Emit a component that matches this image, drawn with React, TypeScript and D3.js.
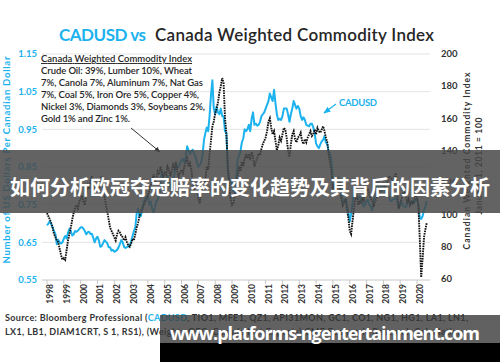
import React from "react";
import * as d3 from "d3";

const yearLabels = ["1998", "1999", "2000", "2001", "2002", "2003", "2004", "2005", "2006", "2007", "2008",
  "2009", "2010", "2011", "2012", "2013", "2014", "2015", "2016", "2017", "2018", "2019", "2020"];
const leftTicks = [0.55, 0.65, 0.75, 0.85, 0.95, 1.05, 1.15];
const rightTicks = [60, 80, 100, 120, 140, 160, 180, 200];

// monthly, Jan 1998 .. Aug 2020
const cadusd = [
  0.695, 0.700, 0.706, 0.698, 0.690, 0.680, 0.672, 0.645, 0.657, 0.650, 0.647, 0.650,
  0.660, 0.667, 0.660, 0.676, 0.686, 0.680, 0.668, 0.671, 0.680, 0.678, 0.681, 0.685,
  0.690, 0.690, 0.686, 0.680, 0.671, 0.677, 0.678, 0.672, 0.673, 0.662, 0.650, 0.660,
  0.665, 0.655, 0.638, 0.640, 0.648, 0.656, 0.652, 0.648, 0.637, 0.637, 0.628, 0.630,
  0.625, 0.627, 0.630, 0.636, 0.645, 0.656, 0.650, 0.638, 0.635, 0.637, 0.640, 0.640,
  0.652, 0.666, 0.680, 0.690, 0.727, 0.740, 0.718, 0.720, 0.738, 0.757, 0.765, 0.770,
  0.772, 0.750, 0.758, 0.738, 0.730, 0.742, 0.760, 0.762, 0.778, 0.800, 0.838, 0.822,
  0.812, 0.805, 0.826, 0.808, 0.795, 0.808, 0.820, 0.832, 0.855, 0.850, 0.850, 0.862,
  0.868, 0.872, 0.862, 0.876, 0.905, 0.895, 0.884, 0.892, 0.896, 0.885, 0.878, 0.862,
  0.850, 0.855, 0.862, 0.882, 0.922, 0.940, 0.955, 0.945, 0.985, 1.040, 1.080, 1.005,
  0.990, 1.010, 0.995, 0.990, 1.005, 0.985, 0.985, 0.945, 0.940, 0.840, 0.815, 0.805,
  0.815, 0.785, 0.790, 0.815, 0.870, 0.880, 0.890, 0.915, 0.925, 0.950, 0.945, 0.950,
  0.962, 0.945, 0.978, 0.995, 0.962, 0.965, 0.960, 0.962, 0.970, 0.985, 0.990, 0.995,
  1.005, 1.015, 1.025, 1.045, 1.035, 1.025, 1.055, 1.020, 0.990, 0.975, 0.978, 0.975,
  0.985, 1.005, 1.005, 1.005, 0.990, 0.970, 0.990, 1.005, 1.025, 1.015, 1.005, 1.012,
  1.005, 0.985, 0.975, 0.982, 0.975, 0.962, 0.960, 0.958, 0.965, 0.965, 0.955, 0.940,
  0.912, 0.905, 0.900, 0.910, 0.918, 0.922, 0.932, 0.915, 0.910, 0.890, 0.885, 0.865,
  0.815, 0.800, 0.792, 0.810, 0.822, 0.810, 0.785, 0.760, 0.755, 0.765, 0.752, 0.730,
  0.705, 0.725, 0.755, 0.780, 0.775, 0.775, 0.765, 0.770, 0.762, 0.755, 0.745, 0.750,
  0.760, 0.763, 0.750, 0.745, 0.735, 0.752, 0.785, 0.795, 0.815, 0.795, 0.785, 0.785,
  0.805, 0.795, 0.775, 0.785, 0.775, 0.760, 0.760, 0.765, 0.765, 0.770, 0.757, 0.740,
  0.750, 0.758, 0.748, 0.745, 0.743, 0.752, 0.763, 0.753, 0.755, 0.760, 0.755, 0.762,
  0.765, 0.752, 0.715, 0.712, 0.720, 0.735, 0.745, 0.760,
];

const commodity = [
  101, 99, 97, 95, 92, 88, 86, 84, 83, 79, 75, 72,
  73, 72, 78, 84, 88, 92, 97, 101, 104, 106, 104, 108,
  110, 112, 108, 106, 113, 118, 116, 121, 124, 120, 116, 118,
  115, 118, 122, 124, 118, 112, 106, 102, 97, 92, 90, 88,
  86, 84, 88, 90, 89, 87, 86, 84, 86, 83, 81, 80,
  82, 85, 84, 88, 92, 95, 99, 102, 104, 106, 108, 110,
  112, 115, 118, 121, 125, 120, 123, 127, 125, 130, 127, 124,
  126, 125, 130, 128, 124, 127, 131, 129, 133, 127, 124, 126,
  128, 126, 130, 133, 135, 130, 132, 128, 120, 116, 118, 120,
  110, 107, 113, 118, 115, 122, 130, 128, 138, 146, 155, 158,
  163, 166, 170, 176, 180, 185, 182, 160, 150, 132, 118, 110,
  106, 107, 112, 118, 125, 129, 127, 133, 130, 135, 137, 135,
  138, 134, 139, 136, 130, 133, 135, 138, 137, 141, 144, 146,
  148, 152, 158, 160, 154, 150, 152, 146, 140, 143, 148, 146,
  150, 154, 153, 148, 140, 136, 144, 150, 152, 147, 145, 148,
  149, 151, 146, 144, 147, 145, 148, 150, 152, 149, 150, 153,
  150, 154, 152, 151, 153, 155, 152, 148, 145, 138, 132, 126,
  116, 118, 114, 119, 118, 116, 110, 106, 108, 109, 104, 98,
  90, 88, 96, 104, 110, 112, 106, 108, 107, 111, 109, 114,
  115, 116, 112, 110, 109, 105, 108, 110, 113, 115, 117, 119,
  120, 117, 118, 121, 124, 123, 122, 121, 124, 126, 112, 104,
  107, 110, 113, 115, 112, 108, 110, 106, 108, 107, 109, 112,
  111, 105, 85, 61, 73, 86, 91, 95,
];

const boxLines = [
  "Canada Weighted Commodity Index",
  "Crude Oil: 39%, Lumber 10%, Wheat",
  "7%, Canola 7%, Aluminum 7%, Nat Gas",
  "7%, Coal 5%, Iron Ore 5%, Copper 4%,",
  "Nickel 3%, Diamonds 3%, Soybeans 2%,",
  "Gold 1% and Zinc 1%.",
];
const boxWidths = [151, 151, 162, 158, 164, 89];

const BLUE = "#1cb2ee";
const DARK = "#262626";
const FONT = "Lato, 'Open Sans', sans-serif";

const x = d3.scaleLinear().domain([1998, 2020]).range([47, 417]);
const yL = d3.scaleLinear().domain([0.55, 1.15]).range([280, 54]);
const yR = d3.scaleLinear().domain([60, 200]).range([279, 54]);

const blueLine = d3.line<number>()
  .x((d, i) => x(1998 + i / 12))
  .y(d => yL(d));
const blackLine = d3.line<number>()
  .x((d, i) => x(1998 + i / 12))
  .y(d => yR(d));

export default function App() {
  return (
    <svg width={500} height={362} style={{ position: "absolute", left: 0, top: 0, background: "#fff" }}
      fontFamily={FONT}>
      <defs>
        <marker id="arrDark" viewBox="0 0 10 10" refX="9" refY="5" markerWidth="6" markerHeight="6" orient="auto">
          <path d="M0,1 L10,5 L0,9 z" fill="#333" />
        </marker>
        <marker id="arrBlue" viewBox="0 0 10 10" refX="9" refY="5" markerWidth="6" markerHeight="6" orient="auto">
          <path d="M0,1 L10,5 L0,9 z" fill={BLUE} />
        </marker>
      </defs>
      <rect width={500} height={362} fill="#fff" />

      {/* title */}
      <text x={59} y={41} fontSize={17} fontWeight={700} fill={BLUE} textLength={87}>CADUSD vs</text>
      <text x={155} y={41} fontSize={17} fontWeight={600} fill={DARK} textLength={279}>Canada Weighted Commodity Index</text>

      {/* grid */}
      {leftTicks.map(t => (
        <line key={t} x1={42} x2={430} y1={yL(t)} y2={yL(t)} stroke={t === 0.55 ? "#c8c8c8" : "#e4e4e4"} strokeWidth={1} />
      ))}
      {yearLabels.map(yr => (
        <line key={yr} x1={x(+yr)} x2={x(+yr)} y1={280} y2={284} stroke="#c8c8c8" />
      ))}

      {/* left axis */}
      {leftTicks.map(t => (
        <text key={t} x={37} y={yL(t)} dy="0.35em" textAnchor="end" fontSize={9.5} fontWeight={700} fill={BLUE}>
          {t.toFixed(2)}
        </text>
      ))}
      <text transform="translate(10,160) rotate(-90)" textAnchor="middle" fontSize={9.5} fontWeight={700} fill={BLUE}
        textLength={207}>Number of US Dollars Per Canadian Dollar</text>

      {/* right axis */}
      {rightTicks.map(t => (
        <text key={t} x={441} y={yR(t)} dy="0.35em" fontSize={9.5} fontWeight={700} fill="#333">{t}</text>
      ))}
      <text transform="translate(470,161) rotate(-90)" textAnchor="middle" fontSize={8.5} fontWeight={700} fill="#333"
        textLength={177}>Canadian Weighted Commodity Index</text>
      <text transform="translate(482,166) rotate(-90)" textAnchor="middle" fontSize={8.5} fontWeight={700} fill="#333"
        textLength={97}>January 1, 2011 = 100</text>

      {/* x labels */}
      {yearLabels.map(yr => (
        <text key={yr} transform={`translate(${x(+yr) + 3},284) rotate(-90)`} textAnchor="end" dy="0.35em"
          fontSize={8.5} fontWeight={700} fill="#333">{yr}</text>
      ))}

      {/* series */}
      <path d={blueLine(cadusd) || ""} fill="none" stroke={BLUE} strokeWidth={2} strokeLinejoin="round" />
      <path d={blackLine(commodity) || ""} fill="none" stroke="#111" strokeWidth={1.9} strokeDasharray="1.6 0.9" />

      {/* annotation box */}
      {boxLines.map((l, i) => (
        <text key={i} x={41} y={62 + i * 12} fontSize={9.5} fontWeight={600} fill={DARK} textLength={boxWidths[i]}
          textDecoration={i === 0 ? "underline" : undefined}>{l}</text>
      ))}
      <line x1={131} y1={128} x2={160} y2={152} stroke="#333" strokeWidth={1} markerEnd="url(#arrDark)" />

      <text x={339} y={106} fontSize={9.5} fontWeight={700} fill={BLUE} textLength={38}>CADUSD</text>
      <line x1={336} y1={104} x2={324} y2={113} stroke={BLUE} strokeWidth={1.2} markerEnd="url(#arrBlue)" />

      {/* source */}
      <text x={5} y={321} fontSize={9} fontWeight={700} fill="#333" textLength={463}>
        Source: Bloomberg Professional (<tspan fill={BLUE}>CADUSD</tspan>, TIO1, MFE1, QZ1, API31MON, GC1, CO1, NG1, HG1, LA1, LN1,
      </text>
      <text x={5} y={335} fontSize={9} fontWeight={700} fill="#333" textLength={462}>
        LX1, LB1, DIAM1CRT, S 1, RS1), (Weights OEC, Canada Net Exports) CME Economic Research Calculations
      </text>

      {/* overlays */}
      <rect x={0} y={150} width={500} height={63} fill="#484848" fillOpacity={0.85} />
      <text x={250} y={186} textAnchor="middle" dominantBaseline="central" fontSize={20.5} fontWeight={700} fill="#fff"
        textLength={480} lengthAdjust="spacingAndGlyphs"
        fontFamily="'Noto Sans CJK SC', sans-serif">如何分析欧冠夺冠赔率的变化趋势及其背后的因素分析</text>

      <rect x={160} y={315} width={340} height={28} fill="#3a3a3a" fillOpacity={0.8} />
      <rect x={160} y={343} width={340} height={19} fill="#000" />
      <text x={170} y={340} fontSize={18} fontWeight={700} fill="#fff" textLength={310}
        fontFamily="'Open Sans', sans-serif">www.platforms-ngentertainment.com</text>
    </svg>
  );
}
